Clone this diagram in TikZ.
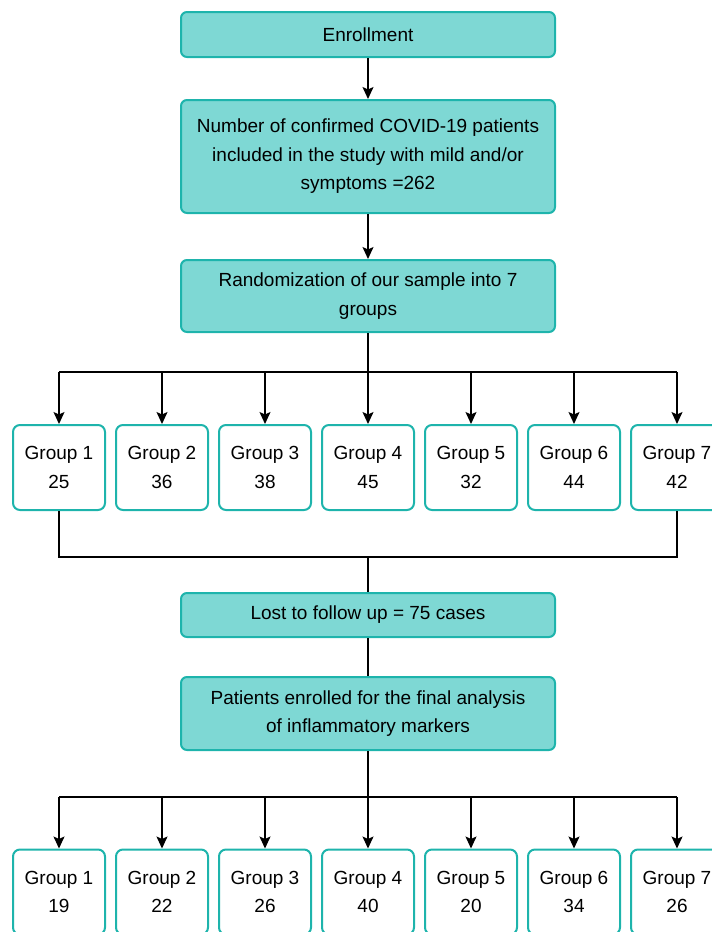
\documentclass[tikz,border=0pt]{standalone}
\usepackage{fontspec}
\setmainfont{Liberation Sans}
\usetikzlibrary{arrows.meta}
\definecolor{boxfill}{RGB}{126,216,212}
\definecolor{boxline}{RGB}{30,180,172}
\tikzset{
	stage/.style={draw=boxline,fill=boxfill,line width=2pt,rounded corners=6pt,minimum width=374pt,inner sep=0pt,align=center},
	grp/.style={draw=boxline,fill=white,line width=2pt,rounded corners=7pt,minimum width=92pt,minimum height=85pt,inner sep=0pt,align=center},
	arr/.style={-{Stealth[length=12pt,width=11pt,inset=2.5pt]}},
	link/.style={line width=1.4pt}
}
\begin{document}
\begin{tikzpicture}[x=1pt,y=-1pt,font=\fontsize{19}{28.5}\selectfont]
		\useasboundingbox (0,0) rectangle (712,932);
		% boxes of the main column
		\node[stage,minimum height=45pt] (enroll) at (368,34.5) {Enrollment};
		\node[stage,minimum height=113pt] (confirmed) at (368,156.5) {Number of confirmed COVID-19 patients\\included in the study with mild and/or\\symptoms =262};
		\node[stage,minimum height=72pt] (random) at (368,296) {Randomization of our sample into 7\\groups};
		\node[stage,minimum height=44pt] (lost) at (368,615) {Lost to follow up = 75 cases};
		\node[stage,minimum height=73pt] (final) at (368,713.5) {Patients enrolled for the final analysis\\of inflammatory markers};
		% the two rows of groups
		\foreach \i/\n in {1/25,2/36,3/38,4/45,5/32,6/44,7/42}
			\node[grp] (ga\i) at ({59+103*(\i-1)},467.5) {Group \i\\\n};
		\foreach \i/\n in {1/19,2/22,3/26,4/40,5/20,6/34,7/26}
			\node[grp] (gb\i) at ({59+103*(\i-1)},892) {Group \i\\\n};
		\coordinate (splitA) at (368,372);
		\coordinate (joinA) at (368,557);
		\coordinate (splitB) at (368,797);
		% connectors
		\draw[link,arr] (enroll) -- (confirmed);
		\draw[link,arr] (confirmed) -- (random);
		\draw[link] (random) -- (splitA);
		\draw[link] (splitA -| ga1) -- (splitA -| ga7);
		\foreach \i in {1,...,7}
			\draw[link,arr] (splitA -| ga\i) -- (ga\i);
		\draw[link] (ga1) -- (joinA -| ga1) -- (joinA -| ga7) -- (ga7);
		\draw[link] (joinA) -- (lost);
		\draw[link] (lost) -- (final);
		\draw[link] (final) -- (splitB);
		\draw[link] (splitB -| gb1) -- (splitB -| gb7);
		\foreach \i in {1,...,7}
			\draw[link,arr] (splitB -| gb\i) -- (gb\i);
\end{tikzpicture}
\end{document}
